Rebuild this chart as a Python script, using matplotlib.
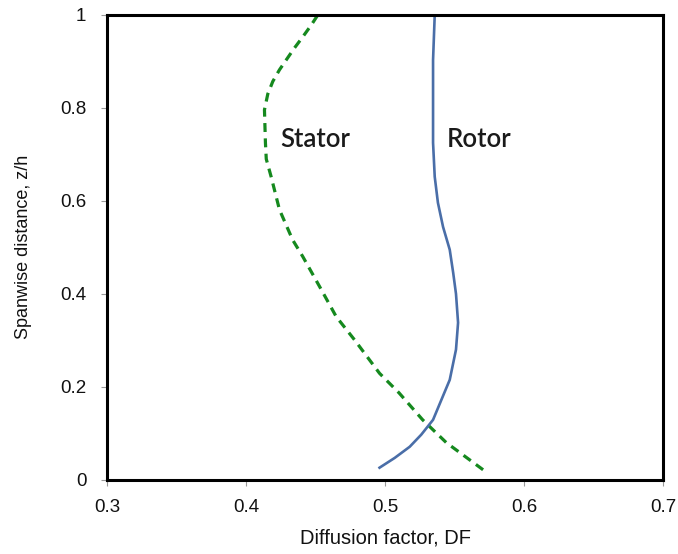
import matplotlib.pyplot as plt

# stator (dashed green): diffusion factor vs spanwise distance
stator_df = [0.5705, 0.544, 0.527, 0.510, 0.496, 0.478, 0.4648, 0.4528,
             0.4408, 0.4335, 0.424, 0.418, 0.4145, 0.4139, 0.4132, 0.4156,
             0.4192, 0.424, 0.4288, 0.4348, 0.4408, 0.4468, 0.4516]
stator_z = [0.0215, 0.080, 0.129, 0.187, 0.229, 0.301, 0.351, 0.416,
            0.480, 0.516, 0.581, 0.652, 0.690, 0.725, 0.796, 0.830,
            0.857, 0.882, 0.903, 0.929, 0.953, 0.978, 1.000]

# rotor (solid blue)
rotor_df = [0.496, 0.5069, 0.5177, 0.526, 0.5345, 0.5405, 0.5465, 0.551,
            0.5525, 0.551, 0.549, 0.5465, 0.5417, 0.538, 0.5357, 0.5345,
            0.5345, 0.5345, 0.5357]
rotor_z = [0.026, 0.047, 0.071, 0.097, 0.129, 0.172, 0.215, 0.280,
           0.338, 0.400, 0.445, 0.495, 0.544, 0.596, 0.652, 0.725,
           0.796, 0.903, 1.000]

xticks = [0.3, 0.4, 0.5, 0.6, 0.7]
yticks = [0, 0.2, 0.4, 0.6, 0.8, 1]

fig = plt.figure(figsize=(6.78, 5.54), dpi=100)
ax = fig.add_axes([0.158, 0.134, 0.820, 0.839])

ax.plot(stator_df, stator_z, color='#15891e', lw=2.3, ls=(0, (2.8, 2.0)),
        solid_capstyle='butt', solid_joinstyle='round')
ax.plot(rotor_df, rotor_z, color='#4a6ea8', lw=1.9, solid_joinstyle='round')

ax.text(0.4245, 0.731, 'Stator', fontsize=18.5, family='Lato',
        weight='semibold', va='center', color='#1a1a1a')
ax.text(0.5445, 0.731, 'Rotor', fontsize=18.5, family='Lato',
        weight='semibold', va='center', color='#1a1a1a')

ax.set_xlim(0.3, 0.7)
ax.set_ylim(0, 1)
ax.set_xticks(xticks)
ax.set_xticklabels(['0.3', '0.4', '0.5', '0.6', '0.7'])
ax.set_yticks(yticks)
ax.set_yticklabels(['0', '0.2', '0.4', '0.6', '0.8', '1'])
ax.tick_params(direction='out', length=4, width=0.8, color='#999999',
               labelsize=13.5, labelcolor='#111111')
ax.tick_params(axis='x', pad=9.5)
ax.tick_params(axis='y', pad=11)
for lab in ax.get_xticklabels() + ax.get_yticklabels():
    lab.set_family('Liberation Sans')
for s in ax.spines.values():
    s.set_linewidth(2.2)
    s.set_color('black')

ax.set_xlabel('Diffusion factor, DF', fontsize=14.5, family='Liberation Sans',
              labelpad=9, color='#111111')
ax.set_ylabel('Spanwise distance, z/h', fontsize=13, family='Liberation Sans',
              labelpad=20, color='#111111')

fig.savefig('out.png', dpi=100)
